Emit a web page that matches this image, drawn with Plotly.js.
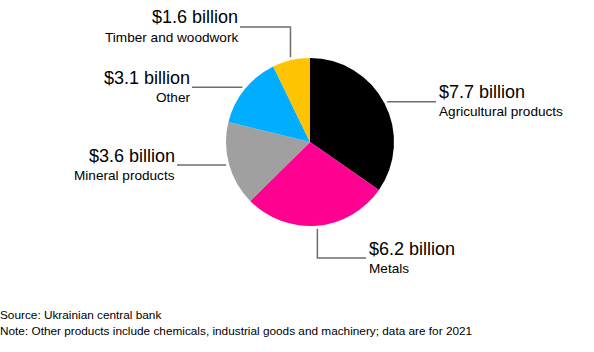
<!DOCTYPE html>
<html>
<head>
<meta charset="utf-8">
<script src="https://cdn.plot.ly/plotly-3.0.1.min.js"></script>
<style>html,body{margin:0;padding:0;background:#fff}#chart{width:594px;height:352px}</style>
</head>
<body>
<div id="chart"></div>
<script>
// ---- data ----
const categories = ["Agricultural products", "Metals", "Mineral products", "Other", "Timber and woodwork"];
const values = [7.7, 6.2, 3.6, 3.1, 1.6];
const colors = ["#000000", "#ff0090", "#a0a0a0", "#00adff", "#ffc300"];
const sourceText = "Source: Ukrainian central bank";
const noteText = "Note: Other products include chemicals, industrial goods and machinery; data are for 2021";

// ---- layout constants (pixels) ----
const W = 594, H = 352;
const CX = 310, CY = 142, R = 84, GAP = 3;
const FONT = "Liberation Sans, Arial, Helvetica, sans-serif";
// leader style per slice: side of text, optional elbow y, end x of the horizontal segment
const leaders = [
  {side: "right", elbowY: null, endX: 436},
  {side: "right", elbowY: 258, endX: 366},
  {side: "left",  elbowY: null, endX: 177},
  {side: "left",  elbowY: null, endX: 192},
  {side: "left",  elbowY: 27,   endX: 240}
];

const px = x => x / W;
const py = y => 1 - y / H;

const total = values.reduce((a, b) => a + b, 0);
const shapes = [];
const annotations = [];
let cum = 0;
values.forEach((v, i) => {
  const mid = (cum + v / 2) / total * 2 * Math.PI; // clockwise from 12 o'clock
  cum += v;
  const ax = CX + (R + GAP) * Math.sin(mid);
  const ay = CY - (R + GAP) * Math.cos(mid);
  const L = leaders[i];
  let pts, lineY;
  if (L.elbowY === null) {
    lineY = ay;
    pts = [[ax, ay], [L.endX, ay]];
  } else {
    lineY = L.elbowY;
    pts = [[ax, ay], [ax, L.elbowY], [L.endX, L.elbowY]];
  }
  const path = pts.map((p, k) => (k ? "L" : "M") + px(p[0]).toFixed(5) + "," + py(p[1]).toFixed(5)).join(" ");
  shapes.push({type: "path", xref: "paper", yref: "paper", path: path,
    line: {color: "#6e6e6e", width: 1.5}});
  const tx = L.side === "right" ? L.endX + 1 : L.endX;
  const xa = L.side === "right" ? "left" : "right";
  annotations.push({xref: "paper", yref: "paper", x: px(tx), y: py(lineY - 9.5),
    xanchor: xa, yanchor: "middle", showarrow: false,
    text: "$" + v.toFixed(1) + " billion",
    font: {family: FONT, size: 18, color: "#000"}});
  annotations.push({xref: "paper", yref: "paper", x: px(tx), y: py(lineY + 10),
    xanchor: xa, yanchor: "middle", showarrow: false,
    text: categories[i],
    font: {family: FONT, size: 13.6, color: "#000"}});
});

annotations.push({xref: "paper", yref: "paper", x: px(-2), y: py(315), xanchor: "left", yanchor: "middle",
  showarrow: false, text: sourceText, font: {family: FONT, size: 11.8, color: "#000"}});
annotations.push({xref: "paper", yref: "paper", x: px(-2), y: py(331), xanchor: "left", yanchor: "middle",
  showarrow: false, text: noteText, font: {family: FONT, size: 11.8, color: "#000"}});

const trace = {
  type: "pie",
  labels: categories,
  values: values,
  sort: false,
  direction: "clockwise",
  rotation: 0,
  textinfo: "none",
  hoverinfo: "label+value",
  marker: {colors: colors, line: {width: 0}},
  domain: {x: [px(CX - R), px(CX + R)], y: [py(CY + R), py(CY - R)]},
  showlegend: false
};

Plotly.newPlot("chart", [trace], {
  width: W, height: H,
  margin: {l: 0, r: 0, t: 0, b: 0},
  paper_bgcolor: "#fff",
  showlegend: false,
  shapes: shapes,
  annotations: annotations
}, {displayModeBar: false, staticPlot: true});
</script>
</body>
</html>
